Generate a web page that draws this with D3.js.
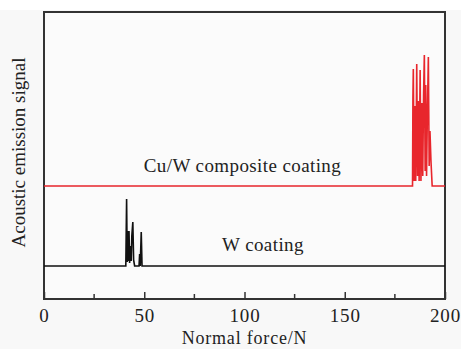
<!DOCTYPE html>
<html>
<head>
<meta charset="utf-8">
<script src="https://cdn.jsdelivr.net/npm/d3@7"></script>
<style>
	body { margin: 0; background: #fff; }
	svg { display: block; }
	text { font-family: 'Liberation Serif', 'Times New Roman', serif; fill: #222; }
</style>
</head>
<body>
<svg id="chart"></svg>
<script>
const WIDTH = 461;
const HEIGHT = 349;

// normal force (N) vs acoustic emission amplitude (arb. units, each trace on its own baseline)
const X_TICKS = [0, 50, 100, 150, 200];
const X_MINOR = [25, 75, 125, 175];

const W_FORCE = [0, 40.8, 41.2, 41.5, 41.8, 42.1, 42.4, 42.7, 43.1, 43.5, 43.8, 44.3, 44.7, 45.2, 47.4, 47.7, 48.0, 48.5, 48.9, 200];
const W_SIGNAL = [0, 0, 0.67, 0.04, 0.35, 0.05, 0.35, 0.03, 0.2, 0.05, 0.3, 0.44, 0.06, 0, 0, 0.12, 0, 0.34, 0, 0];

const CUW_FORCE = [0, 183.8, 184.0, 184.2, 184.6, 185.0, 185.4, 185.9, 186.3, 186.7, 187.1,
	187.6, 188.0, 188.5, 188.9, 189.3, 189.7, 190.1, 190.4, 190.8, 191.2, 191.7, 192.1, 192.5, 193.0, 193.6, 200];
const CUW_SIGNAL = [0, 0, 0.88, 1.17, 0.05, 0.8, 0.05, 1.22, 0.1, 0.85, 0.05,
	1.16, 0.05, 0.83, 0.1, 0.9, 1.31, 0.15, 1.01, 0.1, 0.7, 1.29, 0.2, 0.55, 0.25, 0, 0];

const CUW_OFFSET = 0.8;

const margin = { top: 12, right: 16, bottom: 50, left: 44 };

const $svg = d3.select('#chart').attr('width', WIDTH).attr('height', HEIGHT);

$svg.append('rect')
	.attr('x', 0).attr('y', 10)
	.attr('width', WIDTH).attr('height', HEIGHT - 10)
	.attr('fill', '#f8f8f8');

const x = d3.scaleLinear().domain([0, 200]).range([margin.left, WIDTH - margin.right]);
const y = d3.scaleLinear().domain([-0.33, 2.54]).range([HEIGHT - margin.bottom, margin.top]);

const line = d3.line().x(d => x(d[0])).y(d => y(d[1]));

const wData = W_FORCE.map((f, i) => [f, W_SIGNAL[i]]);
const cuwData = CUW_FORCE.map((f, i) => [f, CUW_SIGNAL[i] + CUW_OFFSET]);

$svg.append('rect')
	.attr('x', x(0)).attr('y', y(2.54))
	.attr('width', x(200) - x(0)).attr('height', y(-0.33) - y(2.54))
	.attr('fill', '#fbfbfb')
	.attr('stroke', '#333')
	.attr('stroke-width', 2);

$svg.append('path')
	.datum(cuwData)
	.attr('d', line)
	.attr('fill', 'none')
	.attr('stroke', '#e8262c')
	.attr('stroke-width', 1.6);

$svg.append('path')
	.datum(wData)
	.attr('d', line)
	.attr('fill', 'none')
	.attr('stroke', '#111')
	.attr('stroke-width', 1.6);

// ticks point inward from the bottom edge
const xAxis = d3.axisBottom(x).tickValues(X_TICKS).tickSizeInner(-7).tickSizeOuter(0).tickPadding(10);
const $xAxis = $svg.append('g')
	.attr('transform', `translate(0,${y(-0.33)})`)
	.call(xAxis);
$xAxis.select('.domain').remove();
$xAxis.selectAll('.tick line').attr('stroke', '#333').attr('stroke-width', 1.5);
$xAxis.selectAll('.tick text')
	.attr('font-family', "'Liberation Serif', serif")
	.attr('font-size', 19)
	.attr('letter-spacing', 0.8)
	.attr('fill', '#222');

$svg.append('g')
	.attr('transform', `translate(0,${y(-0.33)})`)
	.selectAll('line')
	.data(X_MINOR)
	.join('line')
	.attr('x1', d => x(d)).attr('x2', d => x(d))
	.attr('y1', 0).attr('y2', -5)
	.attr('stroke', '#333')
	.attr('stroke-width', 1.5);

$svg.append('text')
	.attr('x', x(100)).attr('y', 344)
	.attr('text-anchor', 'middle')
	.attr('font-size', 18)
	.attr('letter-spacing', 0.8)
	.text('Normal force/N');

$svg.append('text')
	.attr('transform', `translate(25,${y(1.135)}) rotate(-90)`)
	.attr('text-anchor', 'middle')
	.attr('font-size', 19)
	.text('Acoustic emission signal');

$svg.append('text')
	.attr('x', x(99)).attr('y', y(CUW_OFFSET + 0.14))
	.attr('text-anchor', 'middle')
	.attr('font-size', 19)
	.attr('letter-spacing', 0.4)
	.text('Cu/W composite coating');

$svg.append('text')
	.attr('x', x(109.2)).attr('y', y(0.15))
	.attr('text-anchor', 'middle')
	.attr('font-size', 19)
	.attr('letter-spacing', 0.4)
	.text('W coating');
</script>
</body>
</html>
